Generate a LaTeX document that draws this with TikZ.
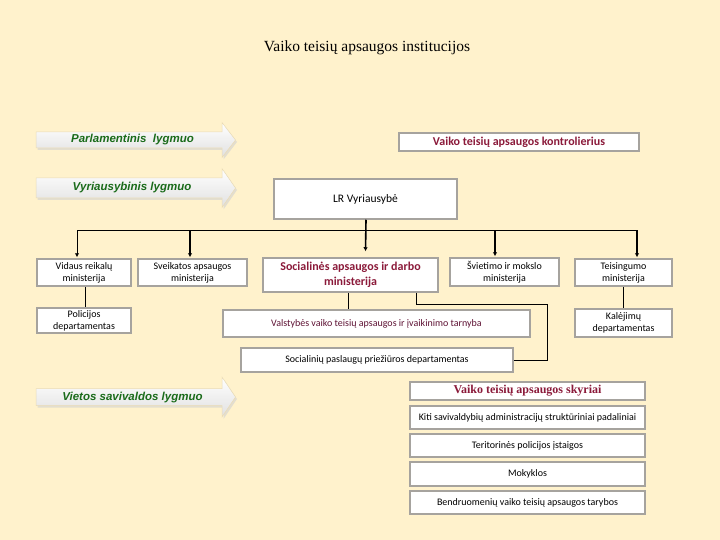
\documentclass[tikz,border=0pt]{standalone}
\usepackage{fontspec}
\setmainfont{Liberation Serif}
\newfontfamily\calfont{Carlito}
\newfontfamily\arialfont{Liberation Sans}
\usetikzlibrary{arrows.meta}
\definecolor{bgc}{HTML}{FFF2CC}
\definecolor{boxline}{HTML}{A6A39E}
\definecolor{darkred}{HTML}{8B1A3A}
\definecolor{maroon}{HTML}{5E1234}
\definecolor{lvlgreen}{HTML}{1A6B1A}
\definecolor{arrowedge}{HTML}{EADBB4}
\tikzset{
  box/.style={draw=boxline, line width=1.5pt, fill=white, inner sep=1pt, align=center,
    font=\calfont\fontsize{10}{12}\selectfont, text=black},
  conn/.style={line width=0.9pt, black},
  thickconn/.style={line width=1.6pt, black},
  arr/.style={-{Latex[length=4pt,width=4.5pt]}, shorten >=1pt},
  lvltext/.style={font=\arialfont\bfseries\itshape\fontsize{11.5}{13}\selectfont, text=lvlgreen},
  lvlfill/.style={draw=arrowedge, line width=0.5pt, top color=white, bottom color=black!12},
  lvlshadow/.style={fill=black!18, draw=none, opacity=0.6}
}
\newcommand\lvlshape[3]{(36,#1-#2) -- (222,#1-#2) -- (222,#1-#3) -- (235.5,#1) -- (222,#1+#3) -- (222,#1+#2) -- (36,#1+#2) -- cycle}
\begin{document}
\begin{tikzpicture}[x=1pt,y=-1pt]
\fill[bgc] (0,0) rectangle (720,540);
\useasboundingbox (0,0) rectangle (720,540);

% title
\node[font=\fontsize{15.5}{18}\selectfont] (title) at (367,47.5) {Vaiko teisių apsaugos institucijos};

% level arrows
\begin{scope}[shift={(1.5,2)}]
  \path[lvlshadow] \lvlshape{140}{8}{17.5};
  \path[lvlshadow] \lvlshape{188}{10}{19.5};
  \path[lvlshadow] \lvlshape{397}{8.5}{20};
\end{scope}
\path[lvlfill] \lvlshape{140}{8}{17.5};
\path[lvlfill] \lvlshape{188}{10}{19.5};
\path[lvlfill] \lvlshape{397}{8.5}{20};
\node[lvltext] (parl) at (132.5,140) {Parlamentinis\ \ lygmuo};
\node[lvltext] (vyr) at (132,188) {Vyriausybinis lygmuo};
\node[lvltext] (viet) at (132.5,397.5) {Vietos savivaldos lygmuo};

% boxes
\node[box, minimum width=240pt, minimum height=18pt, text=darkred,
  font=\calfont\bfseries\fontsize{12}{13}\selectfont] (kontr) at (519,142) {Vaiko teisių apsaugos kontrolierius};
\node[box, minimum width=183pt, minimum height=40pt, font=\calfont\fontsize{11.5}{13}\selectfont] (lr) at (365.5,199) {LR Vyriausybė};

\node[box, minimum width=94pt, minimum height=27pt] (vid) at (84,272.5) {Vidaus reikalų\\ministerija};
\node[box, minimum width=109pt, minimum height=27pt] (sve) at (192.5,272.5) {Sveikatos apsaugos\\ministerija};
\node[box, minimum width=175pt, minimum height=34pt, text=darkred,
  font=\calfont\bfseries\fontsize{12}{15}\selectfont] (soc) at (350.5,275) {Socialinės apsaugos ir darbo\\ministerija};
\node[box, minimum width=109pt, minimum height=28pt] (svi) at (504.5,272) {Švietimo ir mokslo\\ministerija};
\node[box, minimum width=97pt, minimum height=27pt] (tei) at (623.5,272.5) {Teisingumo\\ministerija};

\node[box, minimum width=94pt, minimum height=25pt] (pol) at (84,320.5) {Policijos\\departamentas};
\node[box, minimum width=307pt, minimum height=27pt, text=maroon] (val) at (376.5,323.5) {Valstybės vaiko teisių apsaugos ir įvaikinimo tarnyba};
\node[box, minimum width=97pt, minimum height=28pt] (kal) at (623.5,323) {Kalėjimų\\departamentas};
\node[box, minimum width=272pt, minimum height=24pt] (spd) at (377,360) {Socialinių paslaugų priežiūros departamentas};

\node[box, minimum width=235pt, minimum height=18pt, text=darkred,
  font=\bfseries\fontsize{12}{13}\selectfont] (sky) at (527.5,391) {Vaiko teisių apsaugos skyriai};
\node[box, minimum width=235pt, minimum height=23pt] (kiti) at (527.5,417.5) {Kiti savivaldybių administracijų struktūriniai padaliniai};
\node[box, minimum width=235pt, minimum height=23pt] (ter) at (527.5,445.5) {Teritorinės policijos įstaigos};
\node[box, minimum width=235pt, minimum height=24pt] (mok) at (527.5,474) {Mokyklos};
\node[box, minimum width=235pt, minimum height=23pt] (ben) at (527.5,502.5) {Bendruomenių vaiko teisių apsaugos tarybos};

% connectors
\coordinate (busL) at (77,230.5);
\coordinate (busS) at (190,230.5);
\coordinate (busV) at (495,230.5);
\coordinate (busR) at (637,230.5);
\draw[conn] (busL) -- (busR);
\draw[thickconn, arr] ([xshift=0.5pt]lr.south) -- ([yshift=5pt]lr.south |- soc.north);
\draw[conn, arr] (busL) -- (vid.north -| busL);
\draw[thickconn, arr] (busS) -- (sve.north -| busS);
\draw[thickconn, arr] (busV) -- (svi.north -| busV);
\draw[thickconn, arr] (busR) -- (tei.north -| busR);

\draw[conn] ([xshift=1pt]vid.south) -- ([xshift=1pt]pol.north);
\draw[conn] (tei.south) -- (tei.south |- kal.north);
\draw[conn] ([xshift=-2.5pt]soc.south) -- ([xshift=-2.5pt]soc.south |- val.north);
\coordinate (sr) at (547,304);
\draw[conn] ([xshift=65.5pt]soc.south) |- (sr) |- (spd.east);
\end{tikzpicture}
\end{document}
